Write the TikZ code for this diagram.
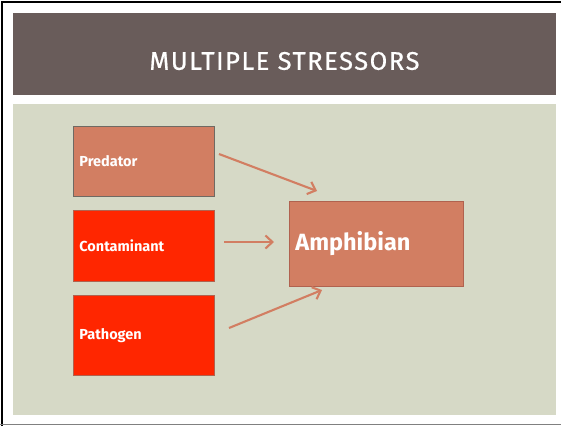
\documentclass[tikz,border=0pt]{standalone}
\usepackage{fontspec}
\setmainfont{Fira Sans}
\newfontfamily\titlefont[LetterSpace=6,FakeBold=0.6]{Fira Sans}
\usetikzlibrary{arrows.meta}
\definecolor{band}{HTML}{695C5A}
\definecolor{panel}{HTML}{D6D9C6}
\definecolor{salmon}{HTML}{D27E62}
\definecolor{hotred}{HTML}{FF2600}
\definecolor{boxedge}{HTML}{6F6A63}
\definecolor{rededge}{HTML}{B0624F}
\tikzset{
  stressbox/.style={draw=#1, line width=0.8pt, minimum height=70pt, text width=129pt,
    inner xsep=6pt, align=left, anchor=north west, text=white,
    font=\fontsize{14.5}{16}\selectfont\bfseries},
  arr/.style={draw=salmon, line width=2.1pt, -{Straight Barb[length=7pt,width=13pt,line width=2.1pt]}},
}
\begin{document}
\begin{tikzpicture}[x=1pt,y=-1pt]
\useasboundingbox (0,0) rectangle (561,426);
\fill[white] (0,0) rectangle (561,426);
% frame
\draw[black, line width=2pt] (2,426) -- (2,1.5) -- (561,1.5);
\draw[gray, line width=1.5pt] (0,424.5) -- (561,424.5);
% title band
\fill[band] (13,13) rectangle (556,95);
\node (title) at (284.5,61) {\titlefont\fontsize{25.5}{28}\selectfont\color{white}MULTIPLE STRESSORS};
% panel
\fill[panel] (13,104) rectangle (556,415);
% boxes
\node[stressbox=boxedge, fill=salmon, minimum height=70pt] (pred) at (73,126) {Predator};
\node[stressbox=rededge, fill=hotred, minimum height=71pt] (cont) at (73,210) {Contaminant};
\node[stressbox=rededge, fill=hotred, minimum height=80pt] (path) at (73,295) {Pathogen};
\node[draw=rededge, line width=0.8pt, fill=salmon, anchor=north west, minimum height=85pt,
  text width=162pt, inner xsep=6pt, align=left, text=white,
  font=\fontsize{23.5}{26}\selectfont\bfseries] (amph) at (289,201) {Amphibian};
% arrows
\coordinate (p1) at (219,154);
\coordinate (p2) at (317,191);
\coordinate (c1) at (224,242);
\coordinate (c2) at (274,242);
\coordinate (g1) at (229,328);
\coordinate (g2) at (322,290);
\draw[arr] (p1) -- (p2);
\draw[arr] (c1) -- (c2);
\draw[arr] (g1) -- (g2);
\end{tikzpicture}
\end{document}
